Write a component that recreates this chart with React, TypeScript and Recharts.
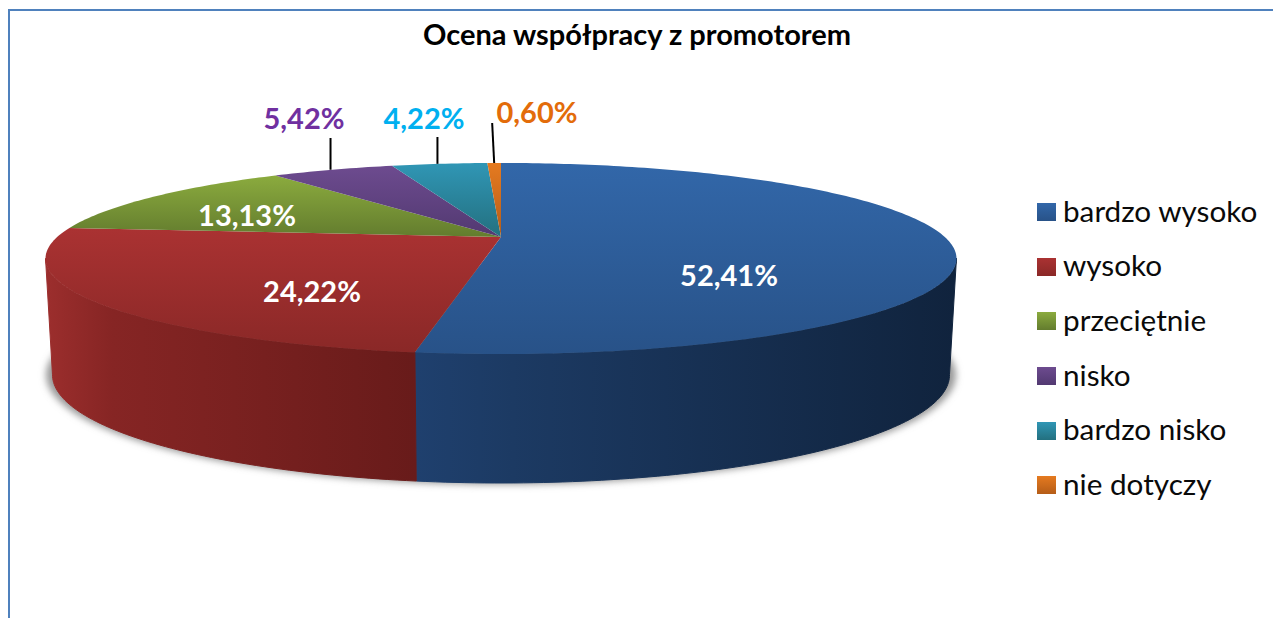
import { PieChart, Pie, Legend } from 'recharts'

const categories = ['bardzo wysoko', 'wysoko', 'przeciętnie', 'nisko', 'bardzo nisko', 'nie dotyczy']
const values = [52.41, 24.22, 13.13, 5.42, 4.22, 0.6]
const valueLabels = ['52,41%', '24,22%', '13,13%', '5,42%', '4,22%', '0,60%']

const topFrom = ['#3267a9', '#aa3232', '#8bab3e', '#6d4b8f', '#3096b5', '#e57a20']
const topTo = ['#285288', '#8a2827', '#637c2e', '#523971', '#23707f', '#b55d18']
const wallFrom = ['#1f406e', '#9c2e2d', '#6d8a33', '#4e3669', '#246f85', '#a9561a']
const wallMid = ['#1c3a63', '#862524', '#5f7a2c', '#463060', '#1f6578', '#954b16']
const wallTo = ['#10233d', '#681b1a', '#4c6022', '#362549', '#184d5c', '#753b10']
const labelColors = ['#ffffff', '#ffffff', '#ffffff', '#7030a0', '#00b0f0', '#e36c0a']

// label centres, in chart pixels
const labelX = [729, 312, 247, 304, 424, 537]
const labelY = [274.5, 290.5, 214.5, 117.5, 117.5, 111.5]
// top of the leader line, 0 = no leader
const leaderTop = [0, 0, 0, 138, 137, 123]
const leaderShift = [0, 0, 0, -2, -2, 0]
const leaderLean = [0, 0, 0, 0, 0, -2]

const data = categories.map((name, i) => ({ name, value: values[i], fill: topFrom[i] }))

const PERSP = 0.225
const DEPTH_Y = 113.6
const TOP_A = 90.7
const BOTTOM_A = 102.6
const BOTTOM_K = 437 / 443.8

const rad = (a: number) => (a * Math.PI) / 180

function project(angle: number, cx: number, cy: number, r: number, bottom = false) {
  const u = Math.cos(rad(angle))
  const v = -Math.sin(rad(angle))
  const w = 1 - PERSP * v
  if (bottom) {
    return { x: cx + (r * BOTTOM_K * u) / w, y: cy + DEPTH_Y + (BOTTOM_A * v) / w, v }
  }
  return { x: cx + (r * u) / w, y: cy + (TOP_A * v) / w, v }
}

function sampleAngles(start: number, end: number) {
  const out: number[] = []
  const n = Math.max(2, Math.ceil(Math.abs(end - start)))
  for (let i = 0; i <= n; i++) out.push(start + ((end - start) * i) / n)
  return out
}

const pts = (list: { x: number; y: number }[]) => list.map(p => `${p.x.toFixed(2)},${p.y.toFixed(2)}`).join(' ')

function Slice3D(props: any) {
  const { cx, cy, outerRadius, startAngle, endAngle, index } = props
  const angles = sampleAngles(startAngle, endAngle)
  const top = angles.map(a => project(a, cx, cy, outerRadius))
  const visible = angles.filter(a => -Math.sin(rad(a)) >= PERSP - 0.01)
  const wallTop = visible.map(a => project(a, cx, cy, outerRadius))
  const wallBottom = visible.map(a => project(a, cx, cy, outerRadius, true)).reverse()
  return (
    <g>
      {visible.length > 1 && (
        <polygon
          points={pts([...wallTop, ...wallBottom])}
          fill={`url(#wall${index})`}
          stroke={`url(#wall${index})`}
          strokeWidth={1}
        />
      )}
      <polygon points={pts([{ x: cx, y: cy }, ...top])} fill={`url(#top${index})`} />
    </g>
  )
}

function SliceLabel(props: any) {
  const { cx, cy, outerRadius, midAngle, index } = props
  const edge = project(midAngle, cx, cy, outerRadius)
  const lineX = edge.x + leaderShift[index]
  return (
    <g>
      {leaderTop[index] > 0 && (
        <line x1={lineX} y1={edge.y} x2={lineX + leaderLean[index]} y2={leaderTop[index]} stroke="#000" strokeWidth={2} />
      )}
      <text
        x={labelX[index]}
        y={labelY[index]}
        textAnchor="middle"
        dominantBaseline="central"
        fill={labelColors[index]}
        style={{ fontFamily: 'Lato', fontWeight: 700, fontSize: 29 }}
      >
        {valueLabels[index]}
      </text>
    </g>
  )
}

function LegendList({ payload }: any) {
  return (
    <div>
      {(payload || []).map((item: any, i: number) => (
        <div key={item.value} style={{ height: 54.6, display: 'flex', alignItems: 'center' }}>
          <span
            style={{
              width: 19,
              height: 18,
              marginRight: 7,
              background: `linear-gradient(${topFrom[i]}, ${topTo[i]})`,
            }}
          />
          <span style={{ fontFamily: 'Lato', fontSize: 29.7, color: '#0a0a0a', whiteSpace: 'nowrap', position: 'relative', top: -2 }}>
            {item.value}
          </span>
        </div>
      ))}
    </div>
  )
}

export default function App() {
  return (
    <div style={{ position: 'absolute', left: 0, top: 0, width: 1273, height: 618, background: '#fff', overflow: 'hidden' }}>
      <div style={{ position: 'absolute', left: 8, top: 9, width: 1400, height: 800, borderTop: '2px solid #4f81bd', borderLeft: '2px solid #4f81bd' }} />
      <PieChart width={1273} height={618} margin={{ top: 0, right: 0, bottom: 0, left: 0 }} style={{ position: 'absolute', left: 0, top: 0 }}>
        <defs>
          {categories.map((_, i) => (
            <linearGradient key={`t${i}`} id={`top${i}`} x1="0" y1="0" x2="0" y2="1">
              <stop offset="0" stopColor={topFrom[i]} />
              <stop offset="1" stopColor={topTo[i]} />
            </linearGradient>
          ))}
          {categories.map((_, i) => (
            <linearGradient key={`w${i}`} id={`wall${i}`} x1="0" y1="0" x2="1" y2="0">
              <stop offset="0" stopColor={wallFrom[i]} />
              <stop offset="0.18" stopColor={wallMid[i]} />
              <stop offset="1" stopColor={wallTo[i]} />
            </linearGradient>
          ))}
          <filter id="pieShadow" x="-5%" y="-10%" width="110%" height="120%">
            <feGaussianBlur stdDeviation="3.5" />
          </filter>
        </defs>
        <ellipse cx={501} cy={375} rx={455} ry={109.5} fill="#999999" filter="url(#pieShadow)" />
        <text
          x={637}
          y={33.5}
          textAnchor="middle"
          dominantBaseline="central"
          fill="#000"
          style={{ fontFamily: 'Lato', fontWeight: 700, fontSize: 29 }}
        >
          Ocena współpracy z promotorem
        </text>
        <Pie
          data={data}
          dataKey="value"
          nameKey="name"
          cx={501}
          cy={237}
          outerRadius={443.8}
          startAngle={90}
          endAngle={-270}
          stroke="none"
          shape={Slice3D}
          label={SliceLabel}
          labelLine={false}
          isAnimationActive={false}
        />
        <Legend
          layout="vertical"
          align="right"
          verticalAlign="top"
          itemSorter={null}
          content={LegendList}
          wrapperStyle={{ left: 1037, top: 185, width: 236 }}
        />
      </PieChart>
    </div>
  )
}
